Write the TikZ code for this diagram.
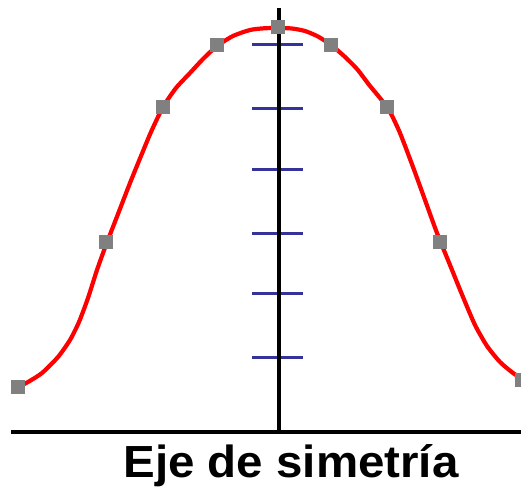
\documentclass[tikz,border=0pt]{standalone}
\usepackage{fontspec}
\usepackage{graphicx}
\setmainfont{Liberation Sans}
\definecolor{curvered}{HTML}{FF0000}
\definecolor{markgray}{HTML}{808080}
\definecolor{tickblue}{HTML}{333399}
\begin{document}
\begin{tikzpicture}[x=1pt,y=-1pt,
  axisline/.style={line width=4pt,black},
  tickline/.style={line width=3pt,tickblue},
  bell/.style={line width=4.2pt,curvered,line cap=round,line join=round},
  marker/.style={fill=markgray,draw=none,minimum size=14pt,inner sep=0pt,rectangle},
  caption/.style={inner sep=0pt,anchor=base,font=\fontsize{45}{50}\selectfont\bfseries}]
\useasboundingbox (0,0) rectangle (521,492);
\fill[white] (0,0) rectangle (521,492);
% ticks
\foreach \ty [count=\i] in {45,108,169,233,293,357}
  \draw[tickline] (252,\ty) -- (303,\ty);
% axes
\coordinate (vtop) at (279,8);
\coordinate (vbot) at (279,434);
\coordinate (hleft) at (11,432);
\coordinate (hright) at (521,432);
\draw[axisline] (vtop) -- (vbot);
\draw[axisline] (hleft) -- (hright);
% bell curve
\draw[bell] plot[smooth,tension=0.4] coordinates {
 (18,387) (28,382) (42,373) (58,357) (70,340) (79,322) (88,298) (97,270)
 (106,245) (118,214) (130,183) (141,156) (151,132) (163,107) (176,88)
 (190,73) (203,59) (217,46) (233,36) (250,30) (264,28.3) (278,28)
 (292,28.5) (305,31) (318,36.5) (331,45) (344,56) (357,69) (370,86)
 (380,98) (390,112) (400,133) (413,167) (425,200) (437,233) (450,265)
 (463,297) (475,325) (487,346) (500,362) (513,373) (521,378)};
% markers
\foreach \mx/\my [count=\i] in {18/387,106/242,163/107,217/45,278/27,331/45,387/107,440/242,522/380}
  \node[marker] (m\i) at (\mx,\my) {};
% caption
\node[caption] (lab) at (291,477) {\scalebox{1.055}[1]{Eje de simetría}};
\end{tikzpicture}
\end{document}
